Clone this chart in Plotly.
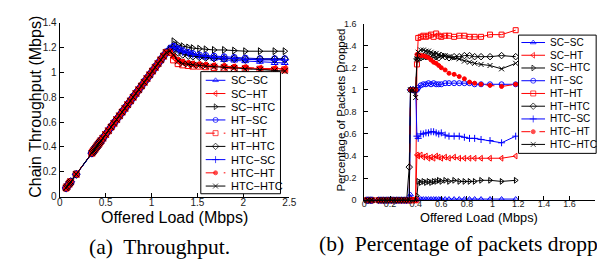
import plotly.graph_objects as go

W, H = 605, 259

# ---------------- series definitions ----------------
names = ["SC−SC", "SC−HT", "SC−HTC", "HT−SC", "HT−HT", "HT−HTC", "HTC−SC", "HTC−HT", "HTC−HTC"]
colors = ["#0000ff", "#ff0000", "#000000", "#0000ff", "#ff0000", "#000000", "#0000ff", "#ff0000", "#000000"]
symbols = ["triangle-up-open", "triangle-left-open", "triangle-right-open", "circle-open",
           "square-open", "diamond-open", "cross-thin-open", "circle", "x-thin-open"]
dash_a = ["solid", "solid", "solid", "solid", "dash", "solid", "solid", "dash", "solid"]
dash_b = ["solid", "solid", "solid", "solid", "solid", "solid", "solid", "dash", "solid"]

# ---------------- (a) throughput ----------------
ramp_load = [0.07, 0.08, 0.10, 0.11, 0.12, 0.18, 0.35, 0.36, 0.37, 0.38, 0.39, 0.40, 0.41, 0.42,
             0.43, 0.44, 0.45, 0.47, 0.50, 0.53, 0.56, 0.59, 0.62, 0.65, 0.68, 0.71, 0.74, 0.77,
             0.80, 0.83, 0.86, 0.89, 0.92, 0.95, 0.98, 1.01, 1.04, 1.07, 1.10, 1.13, 1.16]
ramp_tput = [0.07, 0.08, 0.10, 0.11, 0.12, 0.18, 0.35, 0.36, 0.37, 0.38, 0.39, 0.40, 0.41, 0.42,
             0.43, 0.44, 0.45, 0.47, 0.50, 0.53, 0.56, 0.59, 0.62, 0.65, 0.68, 0.71, 0.74, 0.77,
             0.80, 0.83, 0.86, 0.89, 0.92, 0.95, 0.98, 1.01, 1.04, 1.07, 1.10, 1.13, 1.16]
tail_load = [1.20, 1.24, 1.29, 1.34, 1.40, 1.45, 1.52, 1.59, 1.68, 1.79, 1.90, 2.02, 2.18, 2.34, 2.45]
tail_tput = [
    [1.19, 1.21, 1.19, 1.17, 1.155, 1.14, 1.13, 1.12, 1.11, 1.10, 1.095, 1.09, 1.085, 1.075, 1.075],
    [1.17, 1.12, 1.09, 1.08, 1.07, 1.065, 1.06, 1.055, 1.05, 1.045, 1.04, 1.035, 1.03, 1.03, 1.03],
    [1.19, 1.25, 1.22, 1.21, 1.20, 1.195, 1.19, 1.185, 1.18, 1.18, 1.175, 1.17, 1.17, 1.17, 1.17],
    [1.19, 1.21, 1.19, 1.175, 1.16, 1.15, 1.14, 1.135, 1.13, 1.125, 1.12, 1.115, 1.11, 1.11, 1.11],
    [1.16, 1.10, 1.07, 1.06, 1.055, 1.05, 1.05, 1.045, 1.04, 1.035, 1.03, 1.03, 1.025, 1.02, 1.02],
    [1.18, 1.19, 1.16, 1.145, 1.135, 1.13, 1.125, 1.12, 1.115, 1.11, 1.11, 1.105, 1.105, 1.105, 1.105],
    [1.19, 1.20, 1.18, 1.165, 1.155, 1.145, 1.135, 1.13, 1.12, 1.115, 1.11, 1.105, 1.10, 1.10, 1.10],
    [1.17, 1.13, 1.10, 1.085, 1.075, 1.07, 1.065, 1.06, 1.055, 1.05, 1.045, 1.04, 1.03, 1.025, 1.02],
    [1.17, 1.14, 1.09, 1.07, 1.065, 1.06, 1.055, 1.05, 1.045, 1.04, 1.035, 1.025, 1.02, 1.015, 1.01],
]
a_xticks = [0, 0.5, 1, 1.5, 2, 2.5]
a_xticktext = ["0", "0.5", "1", "1.5", "2", "2.5"]
a_yticks = [0, 0.2, 0.4, 0.6, 0.8, 1.0, 1.2, 1.4]
a_yticktext = ["0", "0.2", "0.4", "0.6", "0.8", "1", "1.2", "1.4"]

# ---------------- (b) packets dropped ----------------
idle_load = [0.02, 0.03, 0.05, 0.06, 0.11, 0.13, 0.15, 0.17, 0.19, 0.21, 0.23, 0.25, 0.27, 0.29, 0.31, 0.33]
idle_drop = [0.0, 0.0, 0.0, 0.0, 0.0, 0.0, 0.0, 0.0, 0.0, 0.0, 0.0, 0.0, 0.0, 0.0, 0.0, 0.0]
jump_load = [0.35, 0.36, 0.38, 0.40, 0.41]
jump_drop = [
    [0.0, 0.05, 0.0, 0.0, 0.01],
    [0.0, 0.0, 0.0, 0.0, 0.41],
    [0.0, 0.0, 0.0, 0.0, 0.04],
    [0.0, 1.0, 1.0, 1.0, 1.0],
    [0.0, 0.0, 0.0, 0.0, 1.23],
    [0.3, 1.0, 1.0, 1.0, 1.28],
    [0.0, 1.0, 1.0, 1.0, 0.58],
    [0.0, 1.0, 1.0, 1.0, 1.32],
    [0.0, 1.0, 1.0, 0.93, 1.28],
]
post_load = [0.42, 0.44, 0.46, 0.48, 0.50, 0.52, 0.54, 0.56, 0.58, 0.60, 0.63, 0.66, 0.70,
             0.74, 0.78, 0.82, 0.86, 0.91, 0.98, 1.07, 1.18]
post_drop = [
    [0.01, 0.01, 0.01, 0.01, 0.01, 0.01, 0.01, 0.01, 0.01, 0.01, 0.01, 0.01, 0.01, 0.01, 0.01, 0.01, 0.01, 0.01, 0.01, 0.01, 0.01],
    [0.40, 0.41, 0.39, 0.40, 0.38, 0.39, 0.38, 0.40, 0.39, 0.38, 0.39, 0.38, 0.39, 0.38, 0.38, 0.38, 0.38, 0.38, 0.38, 0.38, 0.40],
    [0.17, 0.16, 0.17, 0.16, 0.17, 0.16, 0.17, 0.17, 0.18, 0.17, 0.18, 0.17, 0.18, 0.17, 0.17, 0.17, 0.17, 0.18, 0.18, 0.17, 0.18],
    [1.02, 1.04, 1.05, 1.05, 1.06, 1.05, 1.06, 1.05, 1.05, 1.05, 1.06, 1.06, 1.06, 1.06, 1.06, 1.06, 1.05, 1.05, 1.05, 1.05, 1.05],
    [1.47, 1.48, 1.49, 1.48, 1.49, 1.50, 1.48, 1.51, 1.49, 1.48, 1.49, 1.49, 1.48, 1.49, 1.49, 1.48, 1.48, 1.48, 1.50, 1.50, 1.54],
    [1.28, 1.29, 1.30, 1.30, 1.31, 1.30, 1.29, 1.30, 1.29, 1.31, 1.30, 1.29, 1.30, 1.30, 1.31, 1.31, 1.30, 1.30, 1.30, 1.31, 1.30],
    [0.56, 0.60, 0.60, 0.61, 0.61, 0.62, 0.62, 0.61, 0.60, 0.61, 0.59, 0.58, 0.58, 0.58, 0.57, 0.56, 0.56, 0.55, 0.54, 0.52, 0.58],
    [1.32, 1.31, 1.31, 1.30, 1.29, 1.27, 1.25, 1.24, 1.22, 1.20, 1.18, 1.15, 1.14, 1.12, 1.10, 1.07, 1.06, 1.05, 1.04, 1.03, 1.05],
    [1.34, 1.36, 1.36, 1.35, 1.35, 1.34, 1.33, 1.33, 1.32, 1.31, 1.31, 1.30, 1.29, 1.28, 1.26, 1.25, 1.24, 1.23, 1.22, 1.19, 1.24],
]
b_xticks = [0, 0.2, 0.4, 0.6, 0.8, 1.0, 1.2, 1.4, 1.6]
b_xticktext = ["0", "0.2", "0.4", "0.6", "0.8", "1", "1.2", "1.4", "1.6"]
b_yticks = [0, 0.2, 0.4, 0.6, 0.8, 1.0, 1.2, 1.4, 1.6]
b_yticktext = ["0", "0.2", "0.4", "0.6", "0.8", "1", "1.2", "1.4", "1.6"]

# ---------------- layout geometry (pixels) ----------------
A_L, A_R, A_T, A_B = 49.5, 283.0, 10.0, 191.0
B_L, B_R, B_T, B_B = 359.3, 594.0, 11.0, 194.7
LEGA = dict(x0=193, x1=274, y0=61, y1=188, row0=70.0, step=13.75, l0=198, l1=218, tx=222, fs=11)
LEGB = dict(x0=516, x1=595, y0=23, y1=146, row0=30.7, step=13.25, l0=519, l1=543, tx=546, fs=10)

SANS = "Liberation Sans, Arial, sans-serif"
SERIF = "Liberation Serif, Times New Roman, serif"


def px(x):
    return x / W


def py(y):
    return 1 - y / H


fig = go.Figure()

msize = [6, 6, 6, 6, 6, 6, 6, 5, 6]

for i in range(9):
    fig.add_trace(go.Scatter(
        x=ramp_load + tail_load, y=ramp_tput + tail_tput[i], mode="lines+markers",
        line=dict(color=colors[i], width=1, dash=dash_a[i]),
        marker=dict(symbol=symbols[i], size=msize[i], color=colors[i], line=dict(width=1, color=colors[i])),
        xaxis="x", yaxis="y", showlegend=False, cliponaxis=False, name=names[i]))

for i in range(9):
    fig.add_trace(go.Scatter(
        x=idle_load + jump_load + post_load, y=idle_drop + jump_drop[i] + post_drop[i],
        mode="lines+markers",
        line=dict(color=colors[i], width=1, dash=dash_b[i]),
        marker=dict(symbol=symbols[i], size=msize[i] - 1, color=colors[i], line=dict(width=1, color=colors[i])),
        xaxis="x2", yaxis="y2", showlegend=False, cliponaxis=False, name=names[i]))

annotations = []
pad = 3


def add_legend(leg, xa, ya, dashes):
    fig.add_trace(go.Scatter(
        x=[leg["x0"], leg["x1"], leg["x1"], leg["x0"], leg["x0"]],
        y=[leg["y0"], leg["y0"], leg["y1"], leg["y1"], leg["y0"]],
        mode="lines", fill="toself", fillcolor="white",
        line=dict(color="black", width=1), xaxis=xa, yaxis=ya,
        showlegend=False, hoverinfo="skip"))
    for i in range(9):
        yy = leg["row0"] + i * leg["step"]
        xm = (leg["l0"] + leg["l1"]) / 2
        fig.add_trace(go.Scatter(
            x=[leg["l0"], xm, leg["l1"]], y=[yy, yy, yy], mode="lines+markers",
            line=dict(color=colors[i], width=1, dash=dashes[i]),
            marker=dict(symbol=symbols[i], size=[0, msize[i] - 1, 0], color=colors[i],
                        line=dict(width=1, color=colors[i])),
            xaxis=xa, yaxis=ya, showlegend=False, hoverinfo="skip"))
        annotations.append(dict(x=leg["tx"], y=yy, xref=xa, yref=ya, text=names[i],
                                showarrow=False, xanchor="left", yanchor="middle",
                                font=dict(family=SANS, size=leg["fs"], color="black")))


add_legend(LEGA, "x3", "y3", dash_a)
add_legend(LEGB, "x4", "y4", dash_b)

axis_common = dict(showline=True, linecolor="black", linewidth=1, ticks="inside", ticklen=4,
                   tickcolor="black", showgrid=False, zeroline=False,
                   tickfont=dict(family=SANS, color="#1a1a1a"))

fig.update_layout(
    width=W, height=H, margin=dict(l=0, r=0, t=0, b=0),
    paper_bgcolor="white", plot_bgcolor="rgba(0,0,0,0)",
    xaxis=dict(domain=[px(A_L), px(A_R)], range=[0, 2.5], anchor="y",
               tickvals=a_xticks, ticktext=a_xticktext, ticklabelstandoff=-4, **axis_common),
    yaxis=dict(domain=[py(A_B), py(A_T)], range=[0, 1.4], anchor="x",
               tickvals=a_yticks, ticktext=a_yticktext, **axis_common),
    xaxis2=dict(domain=[px(B_L), px(B_R)], range=[0, 1.8], anchor="y2",
                tickvals=b_xticks, ticktext=b_xticktext, ticklabelstandoff=-5, **axis_common),
    yaxis2=dict(domain=[py(B_B), py(B_T)], range=[0, 1.6], anchor="x2",
                tickvals=b_yticks, ticktext=b_yticktext, ticklabelstandoff=5, **axis_common),
    xaxis3=dict(domain=[px(LEGA["x0"] - pad), px(LEGA["x1"] + pad)],
                range=[LEGA["x0"] - pad, LEGA["x1"] + pad], anchor="y3", visible=False),
    yaxis3=dict(domain=[py(LEGA["y1"] + pad), py(LEGA["y0"] - pad)],
                range=[LEGA["y1"] + pad, LEGA["y0"] - pad], anchor="x3", visible=False),
    xaxis4=dict(domain=[px(LEGB["x0"] - pad), px(LEGB["x1"] + pad)],
                range=[LEGB["x0"] - pad, LEGB["x1"] + pad], anchor="y4", visible=False),
    yaxis4=dict(domain=[py(LEGB["y1"] + pad), py(LEGB["y0"] - pad)],
                range=[LEGB["y1"] + pad, LEGB["y0"] - pad], anchor="x4", visible=False),
)
fig.layout.xaxis.tickfont.size = 10
fig.layout.yaxis.tickfont.size = 10
fig.layout.xaxis2.tickfont.size = 9
fig.layout.yaxis2.tickfont.size = 9

annotations += [
    dict(x=px((A_L + A_R) / 2), y=py(212.5), xref="paper", yref="paper", text="Offered Load (Mbps)",
         showarrow=False, xanchor="center", yanchor="middle", font=dict(family=SANS, size=16, color="black")),
    dict(x=px(25), y=py(98), xref="paper", yref="paper", text="Chain Throughput (Mbps)", textangle=-90,
         showarrow=False, xanchor="center", yanchor="middle", font=dict(family=SANS, size=16, color="black")),
    dict(x=px((B_L + B_R) / 2 - 1), y=py(213), xref="paper", yref="paper", text="Offered Load (Mbps)",
         showarrow=False, xanchor="center", yanchor="middle", font=dict(family=SANS, size=12.8, color="black")),
    dict(x=px(336), y=py(101), xref="paper", yref="paper", text="Percentage of Packets Dropped", textangle=-90,
         showarrow=False, xanchor="center", yanchor="middle", font=dict(family=SANS, size=11.5, color="black")),
    dict(x=px(151.5), y=py(243), xref="paper", yref="paper", text="(a)  Throughput.",
         showarrow=False, xanchor="center", yanchor="middle", font=dict(family=SERIF, size=21.5, color="black")),
    dict(x=px(311), y=py(240), xref="paper", yref="paper", text="(b)  Percentage of packets dropped.",
         showarrow=False, xanchor="left", yanchor="middle", font=dict(family=SERIF, size=21.5, color="black")),
]
fig.update_layout(annotations=annotations)

fig.write_html("out.html")
